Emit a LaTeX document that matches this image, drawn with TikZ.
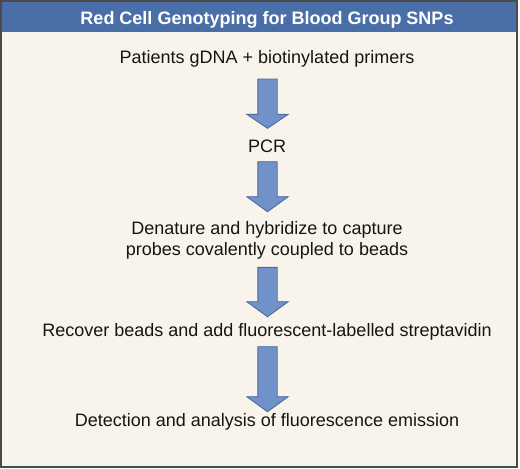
\documentclass[tikz,border=0pt]{standalone}
\usepackage{fontspec}
\setmainfont{Liberation Sans}
\definecolor{cream}{HTML}{F8F4EC}
\definecolor{framegray}{HTML}{4A4A4A}
\definecolor{headblue}{HTML}{4A6EA8}
\definecolor{arrowfill}{HTML}{7191C9}
\definecolor{arrowline}{HTML}{4A6AA0}
\definecolor{txt}{HTML}{151515}
\tikzset{
  steptext/.style={anchor=base, inner sep=0pt, text=txt, font=\fontsize{18}{21}\selectfont, align=center},
  headtext/.style={anchor=base, inner sep=0pt, text=white, font=\fontsize{18}{21}\selectfont\bfseries},
  blockarrow/.style={fill=arrowfill, draw=arrowline, line width=0.9pt, line join=miter},
}
\newcommand{\myblockarrow}[3]{%
  \path[blockarrow] (257.8,-#1) -- (277.2,-#1) -- (277.2,-#2) -- (288.2,-#2)
    -- (267.5,-#3) -- (246.8,-#2) -- (257.8,-#2) -- cycle;}
\begin{document}
\begin{tikzpicture}[x=1pt,y=1pt]
\useasboundingbox (0,0) rectangle (520,-469);
\fill[white] (0,0) rectangle (520,-469);
\fill[cream] (1,-1) rectangle (517,-467);
\fill[headblue] (1,-1) rectangle (517,-32);
\draw[framegray, line width=1.3pt] (1,-1) rectangle (517,-467);
\node[headtext] (title) at (267,-24.6) {Red Cell Genotyping for Blood Group SNPs};
\node[steptext] (s1) at (267,-63) {Patients gDNA + biotinylated primers};
\node[steptext] (s2) at (267,-152) {PCR};
\node[steptext, anchor=base] (s3a) at (267,-234.5) {Denature and hybridize to capture};
\node[steptext, anchor=base] (s3b) at (267,-255.5) {probes covalently coupled to beads};
\node[steptext] (s4) at (267,-336.7) {Recover beads and add fluorescent-labelled streptavidin};
\node[steptext] (s5) at (267,-426.7) {Detection and analysis of fluorescence emission};
\myblockarrow{79}{114.3}{128.3}
\myblockarrow{161.7}{196.7}{211.7}
\myblockarrow{267.3}{301.7}{316.7}
\myblockarrow{346.7}{396.7}{411.7}
\end{tikzpicture}
\end{document}
